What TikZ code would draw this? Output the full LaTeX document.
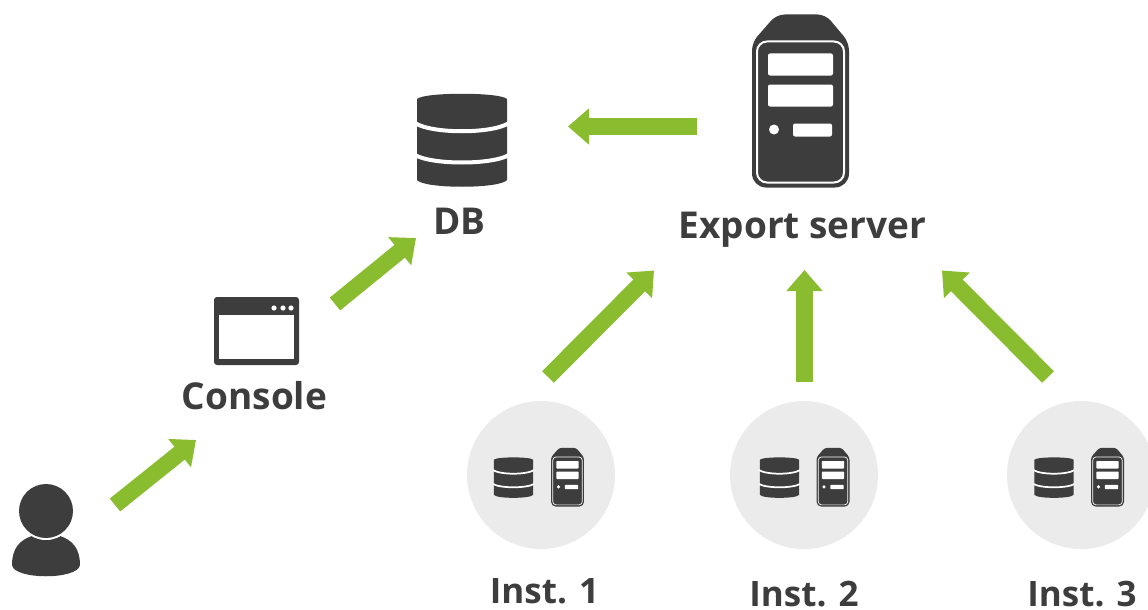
\documentclass[tikz,border=0pt]{standalone}
\usepackage{fontspec}
\setmainfont{Open Sans}
\usetikzlibrary{arrows.meta}
\definecolor{icondark}{HTML}{3D3D3D}
\definecolor{flow}{HTML}{8ABC30}
\definecolor{disc}{HTML}{EBEBEB}
\tikzset{
  flowarrow/.style={draw=flow,line width=16.5pt,-{Triangle[length=21pt,width=35pt,color=flow]}},
  label/.style={font=\bfseries\fontsize{37}{37}\selectfont,text=icondark,inner sep=0pt,anchor=base},
  instlabel/.style={label,font=\bfseries\fontsize{35}{35}\selectfont},
  instdisc/.style={circle,fill=disc,minimum size=148pt,inner sep=0pt},
  serverpic/.pic={
    \begin{scope}[scale=#1]
      \fill[icondark,rounded corners=8pt*#1] (-24,-86) -- (25,-86) -- (48.5,-58) [rounded corners=14pt*#1] -- (48.5,87) -- (-48.5,87) [rounded corners=8pt*#1] -- (-48.5,-58) -- cycle;
      \draw[white,line width=2pt*#1,rounded corners=10pt*#1] (-43.5,-59) rectangle (43.5,82);
      \fill[white,rounded corners=2pt*#1] (-32.5,-47) rectangle (32.5,-25);
      \fill[white,rounded corners=2pt*#1] (-32.5,-16) rectangle (32.5,6);
      \fill[white] (-26.5,29) circle[radius=5];
      \fill[white,rounded corners=2pt*#1] (-7.5,23) rectangle (31.5,36);
    \end{scope}
  },
  dbpic/.pic={
    \begin{scope}[scale=#1]
      \fill[icondark] (-45,-41) .. controls (-38,-48) and (38,-48) .. (45,-41) -- (45,40) .. controls (38,49) and (-38,49) .. (-45,40) -- cycle;
      \draw[white,line width=4pt*#1] (-47,-17) .. controls (-30,-6) and (30,-6) .. (47,-17);
      \draw[white,line width=4pt*#1] (-47,15) .. controls (-30,25) and (30,25) .. (47,15);
    \end{scope}
  },
}
\begin{document}
\begin{tikzpicture}[x=1pt,y=-1pt]
\useasboundingbox (0,0) rectangle (1148,610);
\clip (0,0) rectangle (1148,610);
% instance discs
\node[instdisc] (inst1) at (541,475) {};
\node[instdisc] (inst2) at (804,475) {};
\node[instdisc] (inst3) at (1081,475) {};
% icons
\pic at (800.5,100.5) {serverpic=1};
\pic at (462,140) {dbpic=1};
\pic at (513.5,477.5) {dbpic=0.435};
\pic at (567.5,477) {serverpic=0.34};
\pic at (779.5,477.5) {dbpic=0.435};
\pic at (833,477) {serverpic=0.34};
\pic at (1054,477.5) {dbpic=0.435};
\pic at (1107.5,477) {serverpic=0.34};
% console window
\fill[icondark,rounded corners=3pt] (214,297) rectangle (299,365);
\fill[white] (219,315) rectangle (294,359);
\foreach \dx in {274,283,291} \fill[white] (\dx,308) circle[radius=2.6];
% user
\fill[icondark] (12,565) .. controls (12,548) and (20,540) .. (32,536) .. controls (40,541) and (52,541) .. (60,536) .. controls (72,540) and (80,548) .. (80,565) .. controls (78,580) and (14,580) .. (12,565) -- cycle;
\fill[white] (46,511) circle[radius=29];
\fill[icondark] (46,511) circle[radius=27];
% labels
\node[label] (dbl) at (459.5,234) {DB};
\node[label] (exportl) at (802.5,238) {Export server};
\node[label] (consolel) at (254.5,409) {Console};
\node[instlabel] (i1) at (544.5,603) {Inst. 1};
\node[instlabel] (i2) at (804,606) {Inst. 2};
\node[instlabel] (i3) at (1082,606) {Inst. 3};
% connector ends
\coordinate (a1) at (115,505); \coordinate (b1) at (196,440);
\coordinate (a2) at (335,304); \coordinate (b2) at (416,238);
\coordinate (a3) at (697,126.5); \coordinate (b3) at (568,126.5);
\coordinate (a4) at (548,377); \coordinate (b4) at (654,270.5);
\coordinate (a5) at (804.5,382); \coordinate (b5) at (804.5,270);
\coordinate (a6) at (1048,377); \coordinate (b6) at (942,270.5);
\foreach \n in {1,...,6} \draw[flowarrow] (a\n) -- (b\n);
\end{tikzpicture}
\end{document}
